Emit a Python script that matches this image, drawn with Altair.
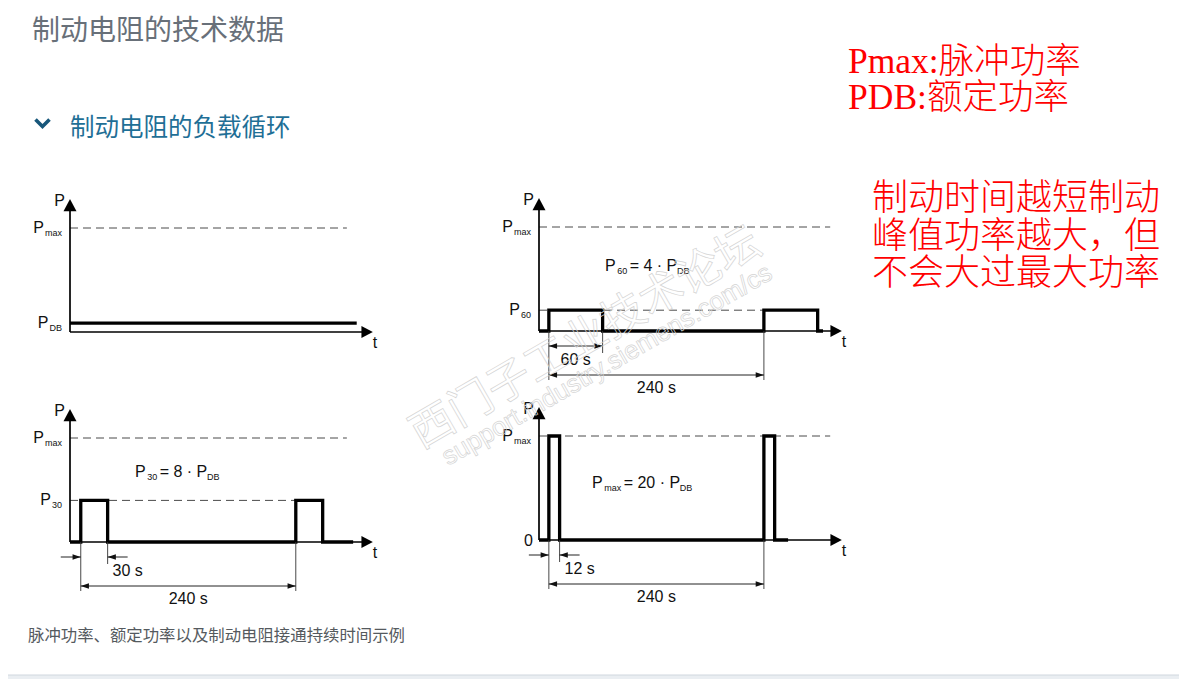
import altair as alt
import pandas as pd

# ---------------- values ----------------
# time in seconds, power in multiples of P_DB  (Pmax = 20 * P_DB)
PMAX = 20.0
A_T = [0, 320]
A_P = [1.7, 1.7]
B_T = [0, 11, 11, 71, 71, 251, 251, 311, 311, 317]
B_P = [0, 0, 4, 4, 0, 0, 4, 4, 0, 0]
C_T = [0, 12, 12, 42, 42, 252, 252, 282, 282, 316]
C_P = [0, 0, 8, 8, 0, 0, 8, 8, 0, 0]
D_T = [0, 11, 11, 23, 23, 251, 251, 263, 263, 278]
D_P = [0, 0, 20, 20, 0, 0, 20, 20, 0, 0]

# dashed reference levels: (level, end time s)
A_REF = [(PMAX, 309)]
B_REF = [(PMAX, 325), (4, 251)]
C_REF = [(PMAX, 309), (8, 252)]
D_REF = [(PMAX, 325)]

# dimension annotations: (start s, end s, label, style, tier)
B_DIM = [(11, 71, "60 s", "in", 1), (11, 251, "240 s", "in", 2)]
C_DIM = [(12, 42, "30 s", "out", 1), (12, 252, "240 s", "in", 2)]
D_DIM = [(11, 23, "12 s", "out", 1), (11, 251, "240 s", "in", 2)]

# level labels on the power axis: (level, main, subscript)
A_LEV = [(PMAX, "P", "max"), (1.7, "P", "DB")]
B_LEV = [(PMAX, "P", "max"), (4, "P", "60")]
C_LEV = [(PMAX, "P", "max"), (8, "P", "30")]
D_LEV = [(PMAX, "P", "max"), (0, "0", "")]

# formulas: (main, sub, rest, sub2)
B_EQ = ("P", "60", "= 4 · P", "DB")
C_EQ = ("P", "30", "= 8 · P", "DB")
D_EQ = ("P", "max", "= 20 · P", "DB")

TITLE = "制动电阻的技术数据"
HEADING = "制动电阻的负载循环"
NOTE1 = ["Pmax:脉冲功率", "PDB:额定功率"]
NOTE2 = ["制动时间越短制动", "峰值功率越大，但", "不会大过最大功率"]
CAPTION = "脉冲功率、额定功率以及制动电阻接通持续时间示例"
WM_CN = "西门子工业技术论坛"
WM_URL = "support.industry.siemens.com/cs"

# ---------------- layout / style ----------------
W, H = 1171, 671
OFF = 8
PXS, PXP = 0.896, 5.2          # px per second, px per P_DB
T_DOM, P_DOM = [0, 340], [0, 26]
AX_T_TIP, AX_P_TIP = 338, 25.6
ORIG = {"A": (70, 332), "B": (539, 331), "C": (70, 542), "D": (539, 540)}
EQ_AT = {"B": (66, -60), "C": (65, -65), "D": (53, -52)}
FONT = "Liberation Sans"
CJK = "Noto Sans CJK SC"
INK = "#111111"
UP = "M0,0L-1,1.9L1,1.9Z"
RIGHT = "M0,0L-1.9,-1L-1.9,1Z"
SM_R = "M0,0L-3,-1L-3,1Z"
SM_L = "M0,0L3,-1L3,1Z"

CW = {"P": .667, "m": .833, "a": .556, "x": .5, "D": .722, "B": .667, " ": .278,
      "=": .584, "·": .278, "s": .5}


def tw(s, fs):
    return sum(CW.get(c, 0.556) for c in s) * fs


def panel(key, wt, wp, refs, dims, levels, eq):
    ox, oy = ORIG[key]
    x0, y0 = ox - OFF, oy - OFF
    xs = alt.Scale(domain=T_DOM, range=[x0, x0 + (T_DOM[1] - T_DOM[0]) * PXS], nice=False, zero=False)
    ys = alt.Scale(domain=P_DOM, range=[y0, y0 - (P_DOM[1] - P_DOM[0]) * PXP], nice=False, zero=False)

    def X(f):
        return alt.X(f"{f}:Q", scale=xs, axis=None)

    def Y(f):
        return alt.Y(f"{f}:Q", scale=ys, axis=None)

    def dt(px):
        return px / PXS

    def dp(px):  # px downward -> power units
        return -px / PXP

    L = []
    # dashed reference levels
    rdf = pd.DataFrame({"t1": [0] * len(refs), "t2": [r[1] for r in refs], "p": [r[0] for r in refs]})
    L.append(alt.Chart(rdf).mark_rule(color="#4a4a4a", strokeWidth=1, strokeDash=[8, 5])
             .encode(x=X("t1"), x2="t2:Q", y=Y("p")))
    # axes
    xa = pd.DataFrame({"t1": [0], "t2": [AX_T_TIP - dt(8)], "p": [0]})
    L.append(alt.Chart(xa).mark_rule(color="black", strokeWidth=1.4).encode(x=X("t1"), x2="t2:Q", y=Y("p")))
    ya = pd.DataFrame({"t": [0], "p1": [0], "p2": [AX_P_TIP + dp(8)]})
    L.append(alt.Chart(ya).mark_rule(color="black", strokeWidth=1.7).encode(x=X("t"), y=Y("p1"), y2="p2:Q"))
    L.append(alt.Chart(pd.DataFrame({"t": [0], "p": [AX_P_TIP]}))
             .mark_point(shape=UP, size=169, filled=True, color="black", opacity=1, strokeWidth=0)
             .encode(x=X("t"), y=Y("p")))
    L.append(alt.Chart(pd.DataFrame({"t": [AX_T_TIP], "p": [0]}))
             .mark_point(shape=RIGHT, size=144, filled=True, color="black", opacity=1, strokeWidth=0)
             .encode(x=X("t"), y=Y("p")))
    # waveform
    wdf = pd.DataFrame({"i": list(range(len(wt))), "t": wt, "p": wp})
    L.append(alt.Chart(wdf).mark_line(color="black", strokeWidth=3.3, strokeJoin="miter")
             .encode(x=X("t"), y=Y("p"), order=alt.Order("i:Q")))

    texts = []
    texts.append((0, 0, -5, -126, "P", 16, "right"))
    texts.append((AX_T_TIP, 0, 0, 16, "t", 16, "left"))
    for lev, main, sub in levels:
        if sub:
            sx = -8 - tw(sub, 9)
            texts.append((0, lev, sx, 7.5, sub, 9, "left"))
            texts.append((0, lev, sx - 1, 4.5, main, 16, "right"))
        else:
            texts.append((0, lev, -6, 5.5, main, 16, "right"))
    if eq:
        ex, ey = EQ_AT[key]
        main, sub, rest, sub2 = eq
        x = ex
        texts.append((0, 0, x, ey, main, 16, "left")); x += tw(main, 16) + 1.5
        texts.append((0, 0, x, ey + 3, sub, 9, "left")); x += tw(sub, 9) + 2.5
        texts.append((0, 0, x, ey, rest, 16, "left")); x += tw(rest, 16) + 0.5
        texts.append((0, 0, x, ey + 3, sub2, 9, "left"))

    if dims:
        tier_y = {1: 15, 2: 44}
        ext_depth = {1: 22, 2: 49}
        label_dy = {1: 34, 2: 62}
        ext = {}
        seg, arr_r, arr_l = [], [], []
        for t1, t2, lab, style, tier in dims:
            for t in (t1, t2):
                ext[t] = max(ext.get(t, 0), ext_depth[tier])
            ly = dp(tier_y[tier])
            if style == "in":
                seg.append((t1, t2, ly))
                arr_l.append((t1, ly))
                arr_r.append((t2, ly))
                cx = (t1 + t2) / 2
            else:
                seg.append((t1 - dt(20), t1, ly))
                seg.append((t2, t2 + dt(20), ly))
                arr_r.append((t1, ly))
                arr_l.append((t2, ly))
                cx = t2 + dt(20)
            texts.append((cx, 0, 0, label_dy[tier], lab, 16, "center"))
        edf = pd.DataFrame({"t": list(ext.keys()), "p1": [0] * len(ext),
                            "p2": [dp(v) for v in ext.values()]})
        L.append(alt.Chart(edf).mark_rule(color="#333333", strokeWidth=0.9)
                 .encode(x=X("t"), y=Y("p1"), y2="p2:Q"))
        sdf = pd.DataFrame(seg, columns=["t1", "t2", "p"])
        L.append(alt.Chart(sdf).mark_rule(color="#222222", strokeWidth=1)
                 .encode(x=X("t1"), x2="t2:Q", y=Y("p")))
        for pts, shp in ((arr_r, SM_R), (arr_l, SM_L)):
            L.append(alt.Chart(pd.DataFrame(pts, columns=["t", "p"]))
                     .mark_point(shape=shp, size=30, filled=True, color="#111111", opacity=1, strokeWidth=0)
                     .encode(x=X("t"), y=Y("p")))

    tdf = pd.DataFrame([(t + dt(dx), p + dp(dy), s, fs, al) for t, p, dx, dy, s, fs, al in texts],
                       columns=["t", "p", "txt", "fs", "al"])
    for al in ("left", "right", "center"):
        sub_df = tdf[tdf["al"] == al]
        if len(sub_df):
            L.append(alt.Chart(sub_df).mark_text(align=al, baseline="alphabetic", font=FONT, color=INK)
                     .encode(x=X("t"), y=Y("p"), text="txt:N", size=alt.Size("fs:Q", scale=None)))
    return alt.layer(*L)


def page_text(rows, **kw):
    df = pd.DataFrame(rows, columns=["x", "y", "txt"])
    return alt.Chart(df).mark_text(**kw).encode(
        x=alt.X("x:Q", scale=None), y=alt.Y("y:Q", scale=None), text="txt:N")


layers = [
    panel("A", A_T, A_P, A_REF, [], A_LEV, None),
    panel("B", B_T, B_P, B_REF, B_DIM, B_LEV, B_EQ),
    panel("C", C_T, C_P, C_REF, C_DIM, C_LEV, C_EQ),
    panel("D", D_T, D_P, D_REF, D_DIM, D_LEV, D_EQ),
]

# bottom grey bar
layers.append(alt.Chart(pd.DataFrame({"a": [0]})).mark_rect(color="#eaeef2").encode(
    x=alt.value(0), x2=alt.value(W), y=alt.value(667), y2=alt.value(H)))
layers.append(alt.Chart(pd.DataFrame({"a": [0]})).mark_rule(color="#d0d7de", strokeWidth=1).encode(
    x=alt.value(0), x2=alt.value(W), y=alt.value(667)))

# headings and caption
layers.append(page_text([(24, 32, TITLE)], align="left", baseline="alphabetic", font=CJK,
                        fontSize=28, color="#687079"))
layers.append(page_text([(62, 127.5, HEADING)], align="left", baseline="alphabetic", font=CJK,
                        fontSize=24.5, color="#1f6f96"))
layers.append(alt.Chart(pd.DataFrame({"a": [0]})).mark_point(
    shape="M-1,-0.5L0,0.5L1,-0.5", size=196, filled=False, color="#17577a", strokeWidth=3.6,
    opacity=1).encode(x=alt.value(34.5), y=alt.value(115)))
layers.append(page_text([(20, 632.5, CAPTION)], align="left", baseline="alphabetic", font=CJK,
                        fontSize=16.4, color="#555a5e"))

# red notes
layers.append(page_text([(840, 65 + 36 * i, s) for i, s in enumerate(NOTE1)], align="left",
                        baseline="alphabetic", font="Liberation Serif, Noto Sans CJK SC",
                        fontSize=35.5, fontWeight=300, color="#ff0000"))
layers.append(page_text([(864, 202 + 37.5 * i, s) for i, s in enumerate(NOTE2)], align="left",
                        baseline="alphabetic", font=CJK, fontSize=36, fontWeight=300, color="#ff0000"))

# watermark
layers.append(page_text([(578, 331, WM_CN)], align="center", baseline="middle", font=CJK,
                        fontSize=44, angle=330, fillOpacity=0, stroke="#d4d4d4", strokeWidth=0.7))
layers.append(page_text([(599, 357, WM_URL)], align="center", baseline="middle", font=FONT,
                        fontSize=26, angle=330, fillOpacity=0, stroke="#d4d4d4", strokeWidth=0.7))

chart = (alt.layer(*layers)
         .resolve_scale(x="independent", y="independent")
         .properties(width=W, height=H, padding=0, autosize=alt.AutoSizeParams(type="none"))
         .configure_view(strokeWidth=0))

chart.save("out.html", embed_options={"renderer": "svg", "actions": False})
